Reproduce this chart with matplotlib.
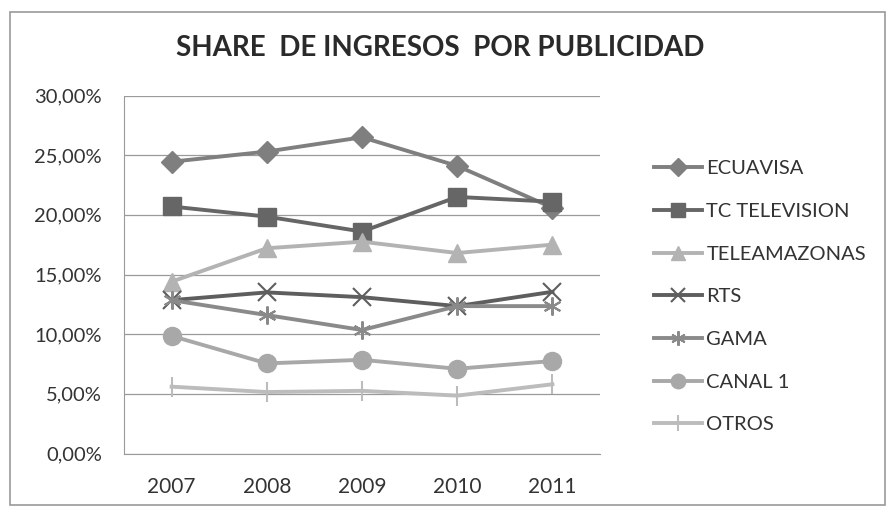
import matplotlib
matplotlib.use("Agg")
import matplotlib.pyplot as plt
from matplotlib.patches import Rectangle
from matplotlib.ticker import FuncFormatter, MultipleLocator

years = ["2007", "2008", "2009", "2010", "2011"]
ecuavisa = [24.45, 25.3, 26.5, 24.1, 20.6]
tc_television = [20.7, 19.85, 18.6, 21.5, 21.1]
teleamazonas = [14.4, 17.2, 17.75, 16.8, 17.5]
rts = [12.85, 13.5, 13.1, 12.35, 13.55]
gama = [12.85, 11.6, 10.35, 12.35, 12.35]
canal1 = [9.85, 7.55, 7.85, 7.1, 7.75]
otros = [5.6, 5.15, 5.25, 4.85, 5.8]

series = [
    ("ECUAVISA", ecuavisa, "#7f7f7f", "D", 11),
    ("TC TELEVISION", tc_television, "#666666", "s", 13),
    ("TELEAMAZONAS", teleamazonas, "#b3b3b3", "^", 13),
    ("RTS", rts, "#5e5e5e", "x", 13),
    ("GAMA", gama, "#8a8a8a", (6, 2, 0), 13),
    ("CANAL 1", canal1, "#a8a8a8", "o", 13),
    ("OTROS", otros, "#bcbcbc", "|", 15),
]

plt.rcParams['font.family'] = ['Lato', 'DejaVu Sans']

fig = plt.figure(figsize=(8.88, 5.14), dpi=100)
ax = fig.add_axes([124/888, 1-453.5/514, (600-124)/888, (453.5-95.5)/514])

x = list(range(len(years)))
for name, vals, col, mk, ms in series:
    mew = 1.5 if mk in ("x", "|", (6, 2, 0)) else 1
    ax.plot(x, vals, color=col, lw=2.8, marker=mk, markersize=ms,
            markeredgecolor=col, markerfacecolor=col, markeredgewidth=mew,
            label=name)

ax.set_xlim(-0.5, 4.5)
ax.set_ylim(0, 30)
ax.yaxis.set_major_locator(MultipleLocator(5))
ax.yaxis.set_major_formatter(FuncFormatter(lambda v, p: f"{v:.2f}".replace(".", ",") + "%"))
ax.set_xticks(x)
ax.set_xticklabels(years)
ax.grid(axis="y", color="#9a9a9a", lw=0.9)
ax.set_axisbelow(True)
for s in ["top", "right"]:
    ax.spines[s].set_visible(False)
ax.spines["left"].set_color("#9a9a9a")
ax.spines["bottom"].set_color("#9a9a9a")
ax.tick_params(axis="y", length=0, labelsize=14.5, colors="#333333", pad=16)
ax.tick_params(axis="x", length=0, labelsize=15, colors="#333333", pad=17)

fig.text(0.496, 1-48/514, "SHARE  DE INGRESOS  POR PUBLICIDAD", ha="center", va="center",
         fontsize=20, fontweight="bold", color="#2a2a2a")

leg = ax.legend(loc="upper left", bbox_to_anchor=(636/888, 1-142/514),
                bbox_transform=fig.transFigure, frameon=False, fontsize=14.5,
                handlelength=2.4, handletextpad=0.2, labelspacing=1.27,
                markerscale=0.8)
for t in leg.get_texts():
    t.set_color("#333333")

fig.patches.append(Rectangle((10/888, 1-505/514), 875/888, (505-12)/514,
                             transform=fig.transFigure, fill=False,
                             edgecolor="#9a9a9a", lw=1.2))

fig.savefig("out.png", dpi=100)
